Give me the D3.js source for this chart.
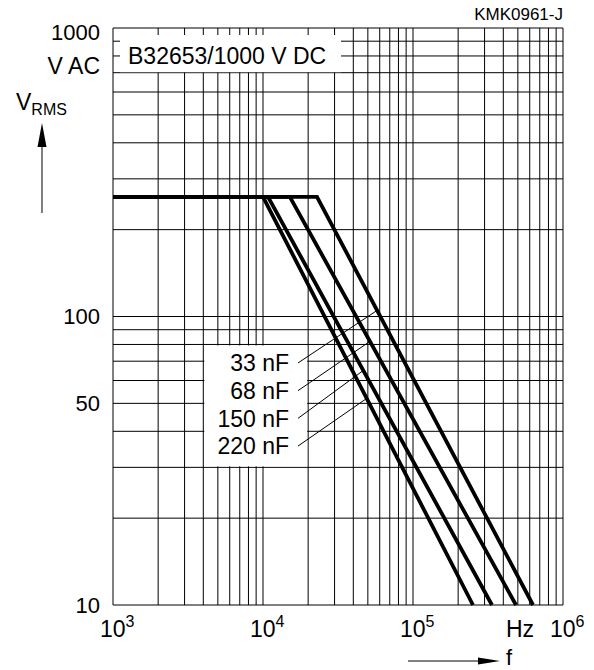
<!DOCTYPE html>
<html><head><meta charset="utf-8">
<script src="https://cdn.jsdelivr.net/npm/d3@7"></script>
<style>
body{margin:0;background:#fff}
text{font-family:"Liberation Sans",Arial,Helvetica,sans-serif;fill:#000}
</style>
</head><body><svg id="c" width="594" height="670"></svg>
<script>
// ---- data ----
const seriesLabels = ["33 nF", "68 nF", "150 nF", "220 nF"];
const vMax = 260;                                  // V AC plateau
const cornerFreq = [22900, 15100, 10800, 10000];   // Hz, end of plateau
const endFreq = [631000, 486000, 336000, 251000];  // Hz, where curve reaches 10 V
const endV = 10;
const leaderV = [105, 82, 65, 52];                 // V where label leaders meet curves
const xTickExp = [3, 4, 5, 6];
const yTickLabels = [10, 50, 100];
const titleText = "B32653/1000 V DC";
const codeText = "KMK0961-J";

// ---- scales ----
const svg = d3.select("#c");
const x = d3.scaleLog().domain([1e3, 1e6]).range([113, 563]);
const y = d3.scaleLog().domain([10, 1000]).range([605, 28]);

// grid values
const xGrid = [];
for (let e = 3; e <= 5; e++) for (let k = 1; k <= 9; k++) xGrid.push(k * Math.pow(10, e));
xGrid.push(1e6);
const yGrid = [];
for (let e = 1; e <= 2; e++) for (let k = 1; k <= 9; k++) yGrid.push(k * Math.pow(10, e));
yGrid.push(1000);

const g = svg.append("g");
g.selectAll("line.vg").data(xGrid).join("line")
  .attr("x1", d => x(d)).attr("x2", d => x(d))
  .attr("y1", y(10)).attr("y2", y(1000))
  .attr("stroke", "#000").attr("stroke-width", 1);
g.selectAll("line.hg").data(yGrid).join("line")
  .attr("x1", x(1e3)).attr("x2", x(1e6))
  .attr("y1", d => y(d)).attr("y2", d => y(d))
  .attr("stroke", "#000").attr("stroke-width", 1);

// white boxes
svg.append("rect")
  .attr("x", x(1e3) + 7).attr("y", y(1000) + 7)
  .attr("width", 221).attr("height", y(700) - y(1000) - 7.5)
  .attr("fill", "#fff");
svg.append("rect")
  .attr("x", x(4e3) + 1).attr("y", y(80) + 1)
  .attr("width", x(2e4) - x(4e3) - 2).attr("height", y(30) - y(80) - 2)
  .attr("fill", "#fff");

svg.append("text").attr("x", 128).attr("y", 63.5)
  .attr("font-size", 23).text(titleText);
svg.append("text").attr("x", 563).attr("y", 20).attr("text-anchor", "end")
  .attr("font-size", 17).text(codeText);

// y tick labels
svg.selectAll("text.yl").data(yTickLabels).join("text")
  .attr("x", 100).attr("y", d => y(d)).attr("dy", "0.36em")
  .attr("text-anchor", "end").attr("font-size", 22).text(d => d);
svg.append("text").attr("x", 100).attr("y", y(1000) + 12)
  .attr("text-anchor", "end").attr("font-size", 22).text("1000");
svg.append("text").attr("x", 100).attr("y", 74)
  .attr("text-anchor", "end").attr("font-size", 23).text("V AC");

// V_RMS label + arrow
const vl = svg.append("text").attr("x", 16).attr("y", 110).attr("font-size", 23);
vl.append("tspan").text("V");
vl.append("tspan").attr("font-size", 16).attr("dy", 5).text("RMS");
svg.append("line").attr("x1", 42).attr("x2", 42).attr("y1", 140).attr("y2", 213)
  .attr("stroke", "#000").attr("stroke-width", 1);
svg.append("path").attr("d", "M42,123 L37.5,147 L46.5,147 Z").attr("fill", "#000");

// x tick labels
xTickExp.forEach(e => {
  const t = svg.append("text").attr("x", x(Math.pow(10, e)) - 13).attr("y", 637).attr("font-size", 23);
  t.append("tspan").text("10");
  t.append("tspan").attr("font-size", 16).attr("dy", -10).text(e);
});
svg.append("text").attr("x", 520).attr("y", 637).attr("text-anchor", "middle")
  .attr("font-size", 23).text("Hz");
svg.append("line").attr("x1", 408).attr("x2", 482).attr("y1", 661).attr("y2", 661)
  .attr("stroke", "#000").attr("stroke-width", 1);
svg.append("path").attr("d", "M500,661 L478,657.5 L478,664.5 Z").attr("fill", "#000");
svg.append("text").attr("x", 506).attr("y", 665).attr("font-size", 22).text("f");

// curves
const line = d3.line().x(d => x(d[0])).y(d => y(d[1]));
const series = seriesLabels.map((lab, i) => [[1e3, vMax], [cornerFreq[i], vMax], [endFreq[i], endV]]);
svg.selectAll("path.curve").data(series).join("path")
  .attr("d", line).attr("fill", "none").attr("stroke", "#000")
  .attr("stroke-width", 3.8).attr("stroke-linejoin", "miter");

// labels + leaders
const L = Math.log10;
seriesLabels.forEach((lab, i) => {
  const ly = y(80) + 18.5 + i * 27.7;
  svg.append("text").attr("x", 289).attr("y", ly).attr("dy", "0.36em")
    .attr("text-anchor", "end").attr("font-size", 23).text(lab);
  const t = (L(vMax) - L(leaderV[i])) / (L(vMax) - L(endV));
  const lf = Math.pow(10, L(cornerFreq[i]) + t * (L(endFreq[i]) - L(cornerFreq[i])));
  svg.append("line").attr("x1", 298).attr("y1", ly)
    .attr("x2", x(lf)).attr("y2", y(leaderV[i]))
    .attr("stroke", "#000").attr("stroke-width", 1);
});
</script>
</body></html>
